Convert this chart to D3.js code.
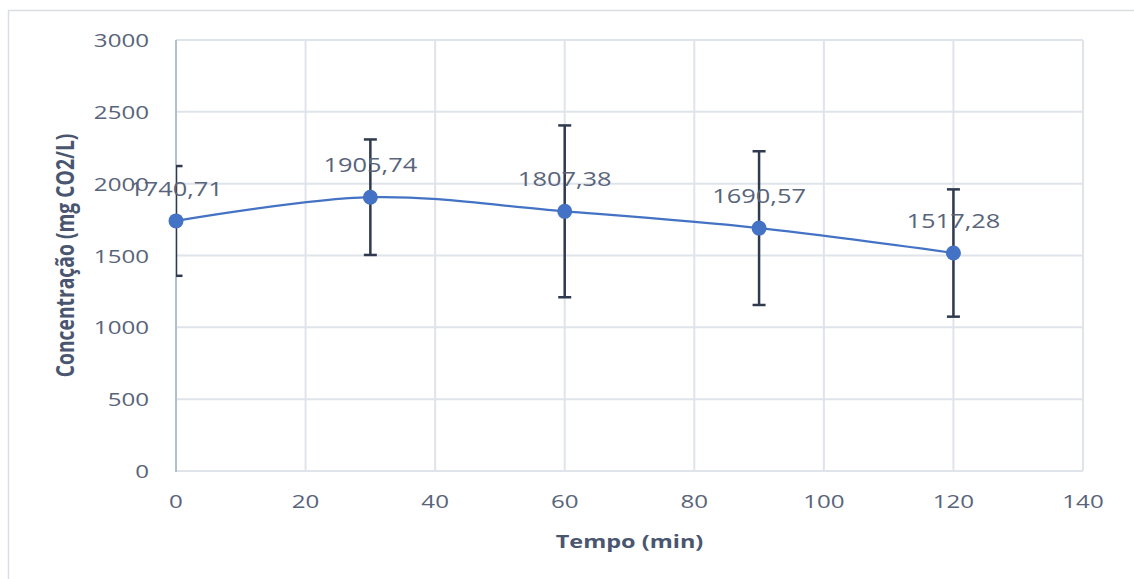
<!DOCTYPE html>
<html>
<head>
<meta charset="utf-8">
<script src="https://cdn.jsdelivr.net/npm/d3@7"></script>
<style>
  body { margin: 0; background: #fff; }
  svg { display: block; font-family: "Open Sans", sans-serif; }
</style>
</head>
<body>
<svg id="chart"></svg>
<script>
// values
const tempos = [0, 30, 60, 90, 120];
const concentracao = [1740.71, 1905.74, 1807.38, 1690.57, 1517.28];
const desvio = [382, 402, 598, 535, 443];
const xTicks = [0, 20, 40, 60, 80, 100, 120, 140];
const yTicks = [0, 500, 1000, 1500, 2000, 2500, 3000];

const width = 1134;
const height = 579;
const margin = { top: 40, right: 51, bottom: 108, left: 176 };
const stretch = 1.27; // the source picture is stretched horizontally

const svg = d3.select("#chart")
    .attr("width", width)
    .attr("height", height);

// outer chart frame
svg.append("rect")
    .attr("x", 8.5).attr("y", 10.5)
    .attr("width", width + 20).attr("height", height + 20)
    .attr("fill", "none")
    .attr("stroke", "#dadde4")
    .attr("stroke-width", 1.5);

const x = d3.scaleLinear().domain([0, 140]).range([margin.left, width - margin.right]);
const y = d3.scaleLinear().domain([0, 3000]).range([height - margin.bottom, margin.top]);

const grid = svg.append("g");
grid.selectAll("line.h")
    .data(yTicks)
    .enter().append("line")
    .attr("x1", x(0)).attr("x2", x(140))
    .attr("y1", d => y(d)).attr("y2", d => y(d))
    .attr("stroke", "#dfe3ea")
    .attr("stroke-width", 2);
grid.selectAll("line.v")
    .data(xTicks.slice(1))
    .enter().append("line")
    .attr("y1", y(0)).attr("y2", y(3000))
    .attr("x1", d => x(d)).attr("x2", d => x(d))
    .attr("stroke", "#dfe3ea")
    .attr("stroke-width", 2);

// vertical axis line
svg.append("line")
    .attr("x1", x(0)).attr("x2", x(0))
    .attr("y1", y(0) + 1).attr("y2", y(3000))
    .attr("stroke", "#b4bdcc")
    .attr("stroke-width", 2);

const tickColor = "#59647a";

svg.append("g").selectAll("text")
    .data(yTicks)
    .enter().append("text")
    .attr("transform", d => `translate(149,${y(d) + 7}) scale(${stretch},1)`)
    .attr("text-anchor", "end")
    .attr("font-size", 19)
    .attr("fill", tickColor)
    .text(d => d);

svg.append("g").selectAll("text")
    .data(xTicks)
    .enter().append("text")
    .attr("transform", d => `translate(${x(d)},${y(0) + 37}) scale(${stretch},1)`)
    .attr("text-anchor", "middle")
    .attr("font-size", 19)
    .attr("fill", tickColor)
    .text(d => d);

// axis titles
svg.append("text")
    .attr("transform", `translate(${(x(0) + x(140)) / 2},${y(0) + 77}) scale(${stretch},1)`)
    .attr("text-anchor", "middle")
    .attr("font-size", 18.5)
    .attr("font-weight", "bold")
    .attr("fill", "#4a5670")
    .text("Tempo (min)");

svg.append("text")
    .attr("transform", `translate(74,${(y(0) + y(3000)) / 2}) rotate(-90) scale(1,${stretch})`)
    .attr("text-anchor", "middle")
    .attr("font-size", 19.3)
    .attr("font-weight", "bold")
    .attr("fill", "#4a5670")
    .text("Concentração (mg CO2/L)");

const data = tempos.map((t, i) => ({ t: t, v: concentracao[i], e: desvio[i] }));

// smoothed line, like the spreadsheet's "smooth line"
const line = d3.line()
    .x(d => x(d.t))
    .y(d => y(d.v))
    .curve(d3.curveCardinal.tension(0));

svg.append("path")
    .datum(data)
    .attr("d", line)
    .attr("fill", "none")
    .attr("stroke", "#4472c4")
    .attr("stroke-width", 2.2);

// error bars, clipped to the plot area
svg.append("clipPath").attr("id", "plot-clip")
    .append("rect")
    .attr("x", x(0)).attr("y", y(3000) - 5)
    .attr("width", x(140) - x(0)).attr("height", y(0) - y(3000) + 10);

const err = svg.append("g")
    .attr("clip-path", "url(#plot-clip)")
    .attr("stroke", "#2f3a4e")
    .attr("stroke-width", 2.5);

const cap = 6.5;
err.selectAll("line.stem")
    .data(data)
    .enter().append("line")
    .attr("x1", d => x(d.t)).attr("x2", d => x(d.t))
    .attr("y1", d => y(d.v + d.e)).attr("y2", d => y(d.v - d.e));
err.selectAll("line.top")
    .data(data)
    .enter().append("line")
    .attr("x1", d => x(d.t) - cap).attr("x2", d => x(d.t) + cap)
    .attr("y1", d => y(d.v + d.e)).attr("y2", d => y(d.v + d.e));
err.selectAll("line.bottom")
    .data(data)
    .enter().append("line")
    .attr("x1", d => x(d.t) - cap).attr("x2", d => x(d.t) + cap)
    .attr("y1", d => y(d.v - d.e)).attr("y2", d => y(d.v - d.e));

svg.append("g").selectAll("circle")
    .data(data)
    .enter().append("circle")
    .attr("cx", d => x(d.t))
    .attr("cy", d => y(d.v))
    .attr("r", 7.5)
    .attr("fill", "#4472c4");

// value labels with comma decimals
svg.append("g").selectAll("text")
    .data(data)
    .enter().append("text")
    .attr("transform", d => `translate(${x(d.t)},${y(d.v) - 25}) scale(${stretch},1)`)
    .attr("text-anchor", "middle")
    .attr("font-size", 20)
    .attr("fill", tickColor)
    .text(d => d.v.toFixed(2).replace(".", ","));
</script>
</body>
</html>
